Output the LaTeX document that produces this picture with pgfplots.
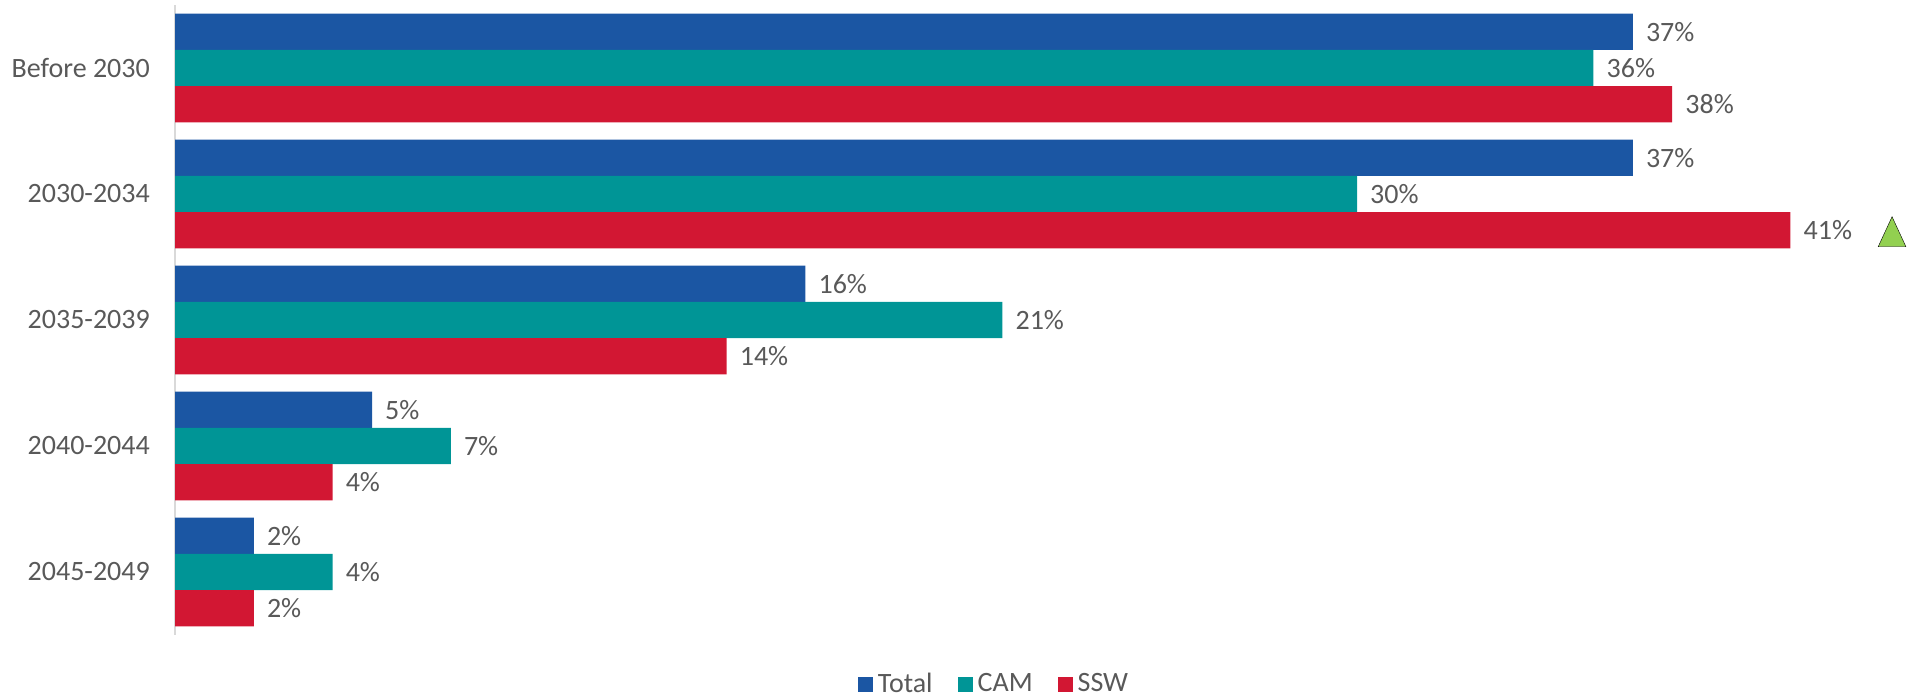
\documentclass[border=0pt]{standalone}
\usepackage{pgfplots}
\pgfplotsset{compat=1.18}
\usepackage{fontspec}
\setmainfont{Carlito}
\definecolor{cTotal}{HTML}{1B56A3}
\definecolor{cCAM}{HTML}{009596}
\definecolor{cSSW}{HTML}{D21733}
\definecolor{cTxt}{HTML}{595959}
\definecolor{cAx}{HTML}{D9D9D9}
\definecolor{cUp}{HTML}{92D050}
\begin{document}
\fontsize{28}{33}\selectfont
\begin{tikzpicture}[x=1pt,y=1pt]
\useasboundingbox (0,0) rectangle (1910,696);
\begin{axis}[
  at={(175pt,61pt)}, anchor=south west,
  scale only axis, width=1733.6pt, height=630pt,
  xbar,
  xmin=0, xmax=44, ymin=-0.5, ymax=4.5,
  y dir=reverse,
  axis x line=none,
  axis y line*=left,
  y axis line style={cAx, line width=1.5pt},
  ytick={0,1,2,3,4},
  yticklabels={Before 2030,2030-2034,2035-2039,2040-2044,2045-2049},
  major tick length=0pt,
  yticklabel style={font=\fontsize{28}{33}\selectfont, text=cTxt, inner xsep=0pt, xshift=-25pt},
  /pgf/number format/assume math mode=true,
  clip=false,
  bar width=0.2875,
  point meta=x,
  nodes near coords={\pgfmathprintnumber{\pgfplotspointmeta}\%},
  nodes near coords align={horizontal},
  every node near coord/.append style={font=\fontsize{28}{33}\selectfont, text=cTxt, inner xsep=0pt, xshift=13pt},
  legend columns=3,
  legend style={draw=none, fill=none, at={(0.473,-0.079)}, anchor=center,
    font=\fontsize{28}{33}\selectfont, text=cTxt,
    /tikz/every odd column/.append style={column sep=1pt},
    /tikz/every even column/.append style={column sep=21pt},
    nodes={inner xsep=4pt}},
  legend cell align=left,
]
\addplot[bar shift=-0.2875, fill=cTotal, draw=none,
  legend image code/.code={\fill[cTotal] (0pt,-7pt) rectangle (15pt,8pt);}]
  coordinates {(37,0) (37,1) (16,2) (5,3) (2,4)};
\addlegendentry{Total}
\addplot[bar shift=0, fill=cCAM, draw=none,
  legend image code/.code={\fill[cCAM] (0pt,-7pt) rectangle (15pt,8pt);}]
  coordinates {(36,0) (30,1) (21,2) (7,3) (4,4)};
\addlegendentry{CAM}
\addplot[bar shift=0.2875, fill=cSSW, draw=none,
  legend image code/.code={\fill[cSSW] (0pt,-7pt) rectangle (15pt,8pt);}]
  coordinates {(38,0) (41,1) (14,2) (4,3) (2,4)};
\addlegendentry{SSW}
\addplot[forget plot, sharp plot, only marks, mark=triangle*, mark size=16pt,
  mark options={fill=cUp, draw=none, yscale=1.25}, nodes near coords={}]
  coordinates {(43.58,1.339)};
\end{axis}
\end{tikzpicture}
\end{document}
